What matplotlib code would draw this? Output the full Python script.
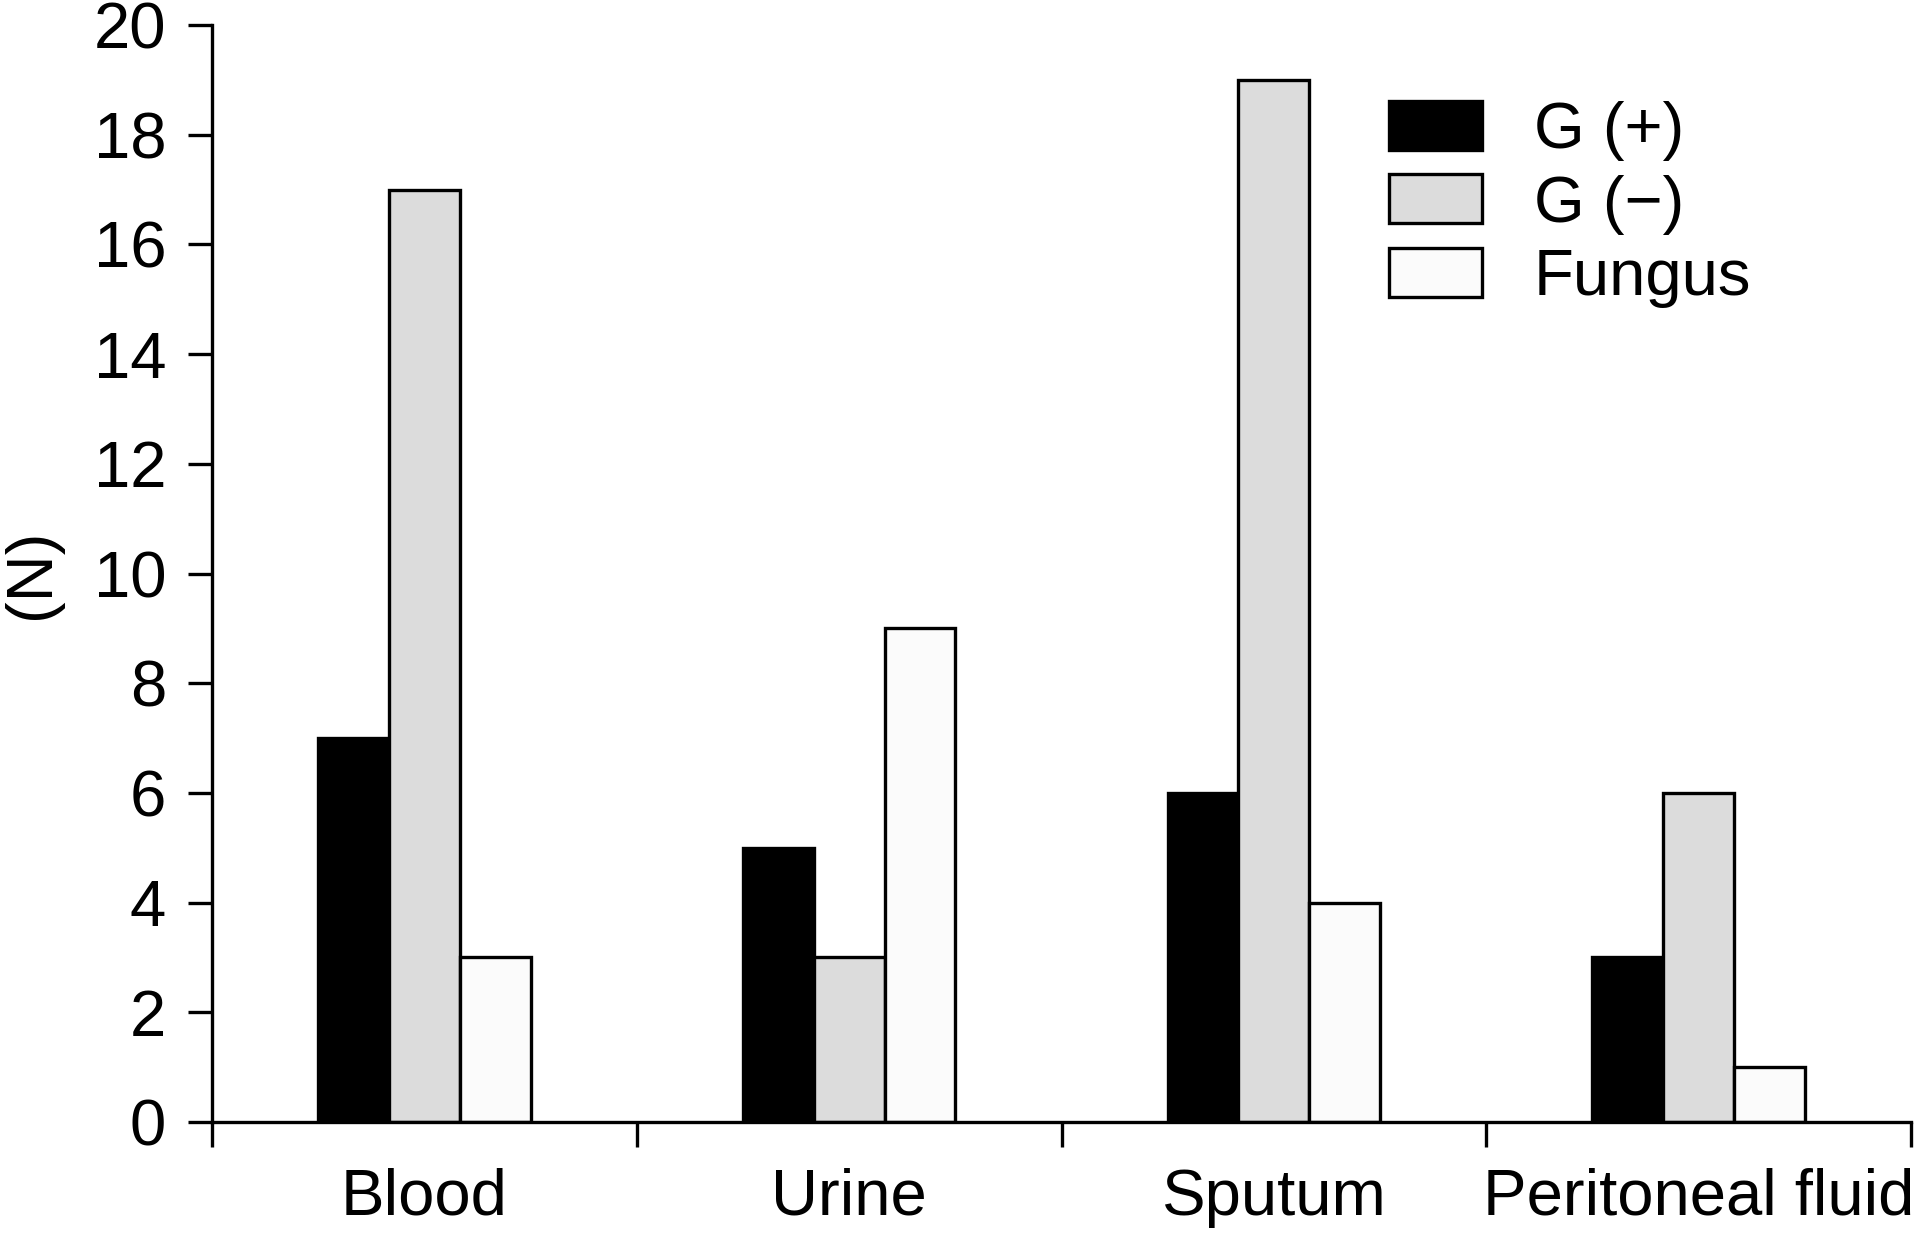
import matplotlib
matplotlib.use("Agg")
import matplotlib.pyplot as plt
from matplotlib.patches import Patch
import numpy as np

plt.rcParams['font.family'] = ['Liberation Sans', 'DejaVu Sans']

categories = ["Blood", "Urine", "Sputum", "Peritoneal fluid"]
series_names = ["G (+)", "G (\u2212)", "Fungus"]
g_pos = [7, 5, 6, 3]
g_neg = [17, 3, 19, 6]
fungus = [3, 9, 4, 1]
series = [g_pos, g_neg, fungus]
colors = ["#000000", "#dcdcdc", "#fbfbfb"]
yticks = [0, 2, 4, 6, 8, 10, 12, 14, 16, 18, 20]

W, H, DPI = 1916, 1233, 100
fig = plt.figure(figsize=(W / DPI, H / DPI), dpi=DPI)
ax = fig.add_axes([212 / W, 1 - 1122 / H, (1911 - 212) / W, (1122 - 25) / H])

fs = 47
w = 1 / 6
x = np.arange(len(categories)) + 0.5
for j, (vals, c) in enumerate(zip(series, colors)):
    ax.bar(x + (j - 1) * w, vals, width=w, color=c, edgecolor="black",
           linewidth=2.4, label=series_names[j], zorder=2)

ax.set_xlim(0, 4)
ax.set_ylim(0, 20)
ax.set_yticks(yticks)
ax.set_yticklabels([str(t) for t in yticks], fontsize=fs)
ax.set_xticks([0, 1, 2, 3, 4])
ax.set_xticklabels([])
ax.set_xticks(x, minor=True)
ax.set_xticklabels(categories, minor=True, fontsize=fs)
ax.tick_params(axis='x', which='minor', length=0, pad=33)
ax.tick_params(axis='x', which='major', direction='out', length=18, width=2.4)
ax.tick_params(axis='y', direction='out', length=17, width=2.4, pad=16)

for s in ["top", "right"]:
    ax.spines[s].set_visible(False)
for s in ["left", "bottom"]:
    ax.spines[s].set_linewidth(2.4)
    ax.spines[s].set_zorder(3)

fig.text(32 / W, 1 - 574 / H, "(N)", rotation=90, ha="center", va="center", fontsize=fs)

handles = [Patch(facecolor=c, edgecolor="black", linewidth=2.4) for c in colors]
ax.legend(handles, series_names, loc="upper left",
          bbox_to_anchor=(1389 / W, 1 - 101 / H), bbox_transform=fig.transFigure,
          frameon=False, fontsize=fs, handlelength=1.42, handleheight=0.78,
          handletextpad=0.8, labelspacing=0.2, borderpad=0, borderaxespad=0)

fig.savefig("out.png", dpi=DPI)
